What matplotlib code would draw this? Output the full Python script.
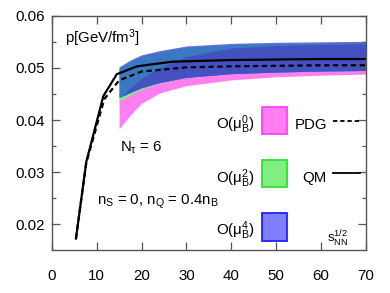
import numpy as np
import matplotlib
matplotlib.use("Agg")
import matplotlib.pyplot as plt
from matplotlib.patches import Rectangle
from matplotlib.lines import Line2D

plt.rcParams['font.family'] = ['Liberation Sans', 'DejaVu Sans']
plt.rcParams['mathtext.fontset'] = 'custom'
plt.rcParams['mathtext.rm'] = 'Liberation Sans'
plt.rcParams['mathtext.it'] = 'Liberation Sans'
plt.rcParams['mathtext.default'] = 'regular'

# ---- data ----
qm_x = [5.4, 7.7, 11.5, 14.5, 19, 27, 40, 50, 60, 70]
qm_y = [0.0173, 0.0320, 0.0446, 0.0488, 0.0503, 0.0512, 0.0515, 0.0516, 0.0517, 0.0517]
pdg_x = [5.4, 7.7, 11.7, 15, 20, 30, 40, 50, 60, 70]
pdg_y = [0.0173, 0.0318, 0.0440, 0.0476, 0.0493, 0.0501, 0.0503, 0.0504, 0.0505, 0.0505]

band_x = [15, 17.5, 20, 24, 30, 40, 50, 60, 70]
blue_hi = [0.0502, 0.0515, 0.0525, 0.0533, 0.0542, 0.0547, 0.0549, 0.0550, 0.0551]
blue_lo = [0.0443, 0.0453, 0.0462, 0.0472, 0.0482, 0.0489, 0.0492, 0.0494, 0.0495]
green_hi = [0.0500, 0.0513, 0.0523, 0.0531, 0.0540, 0.0545, 0.0547, 0.0548, 0.0549]
green_lo = [0.0437, 0.0448, 0.0459, 0.0471, 0.0482, 0.0489, 0.0492, 0.0494, 0.0495]
pink_hi = [0.0440, 0.0462, 0.0480, 0.0500, 0.0522, 0.0538, 0.0543, 0.0545, 0.0546]
pink_lo = [0.0383, 0.0410, 0.0432, 0.0452, 0.0466, 0.0477, 0.0483, 0.0486, 0.0488]

xticks = [0, 10, 20, 30, 40, 50, 60, 70]
yticks = [0.02, 0.03, 0.04, 0.05, 0.06]

c_pink = '#ff7ef0'
c_green = '#7ff07f'
c_blue_only = '#6e6ee6'
c_steel = '#3b78c4'
c_dark = '#4352c0'

fig = plt.figure(figsize=(3.9, 2.93), dpi=100)
ax = fig.add_axes([0.1326, 0.1468, 0.8059, 0.7996])

bx = np.array(band_x)
bh = np.array(blue_hi); bl = np.array(blue_lo)
gh = np.array(green_hi); gl = np.array(green_lo)
ph = np.array(pink_hi); pl = np.array(pink_lo)

ax.fill_between(bx, pl, ph, color=c_pink, lw=0)
ax.fill_between(bx, gl, gh, color=c_green, lw=0)
ax.fill_between(bx, bl, bh, color=c_blue_only, lw=0)
ax.fill_between(bx, np.maximum(gl, bl), gh, color=c_steel, lw=0)
top_dark = np.minimum(ph, gh)
ax.fill_between(bx, bl, top_dark, where=top_dark > bl, interpolate=True, color=c_dark, lw=0)

ax.plot(qm_x, qm_y, color='black', lw=1.6, solid_joinstyle='miter')
ax.plot(pdg_x, pdg_y, color='black', lw=1.6, dashes=(2.4, 1.6))

ax.set_xlim(0, 70)
ax.set_ylim(0.0151, 0.06)
ax.set_xticks(xticks)
ax.set_yticks(yticks)
ax.set_yticklabels(['0.02', '0.03', '0.04', '0.05', '0.06'])
ax.set_yticks(np.arange(0.02, 0.0601, 0.005), minor=True)
ax.tick_params(which='both', direction='in', top=True, right=True, color='#555555')
ax.tick_params(which='major', length=6, width=0.9, labelsize=10.8)
ax.tick_params(which='minor', length=3, width=0.9)
ax.tick_params(axis='x', which='minor', bottom=False, top=False)
ax.tick_params(axis='x', pad=14)
ax.tick_params(axis='y', pad=5)
for s in ax.spines.values():
    s.set_color('#555555')
    s.set_linewidth(1.0)

fs = 10.8
ax.text(0.043, 0.905, r'p[GeV/fm$^3$]', transform=ax.transAxes, fontsize=fs, va='center', ha='left')
ax.text(0.217, 0.438, r'N$_\tau$ = 6', transform=ax.transAxes, fontsize=fs, va='center', ha='left')
ax.text(0.143, 0.206, r'n$_S$ = 0, n$_Q$ = 0.4n$_B$', transform=ax.transAxes, fontsize=fs, va='center', ha='left')

legend_rows = [
    (0.493, 0.533, c_pink, '#ff40ff', r'O($\mu_B^0$)'),
    (0.268, 0.303, c_green, '#30e030', r'O($\mu_B^2$)'),
    (0.040, 0.081, '#7f7fff', '#2020ff', r'O($\mu_B^4$)'),
]
for y0, yt, fc, ec, lab in legend_rows:
    ax.add_patch(Rectangle((0.668, y0), 0.080, 0.116, transform=ax.transAxes,
                           facecolor=fc, edgecolor=ec, lw=1.3, clip_on=False))
    ax.text(0.647, yt, lab, transform=ax.transAxes, fontsize=fs, va='center', ha='right')

ax.text(0.774, 0.533, 'PDG', transform=ax.transAxes, fontsize=fs, va='center', ha='left')
ax.add_line(Line2D([0.895, 0.981], [0.551, 0.551], transform=ax.transAxes, color='black', lw=1.3, dashes=(2.4, 1.6)))
ax.text(0.796, 0.309, 'QM', transform=ax.transAxes, fontsize=fs, va='center', ha='left')
ax.add_line(Line2D([0.895, 0.981], [0.327, 0.327], transform=ax.transAxes, color='black', lw=1.3))
ax.text(0.876, 0.045, r'$s_{NN}^{1/2}$', transform=ax.transAxes, fontsize=9.5, va='center', ha='left')

fig.savefig('out.png', dpi=100)
